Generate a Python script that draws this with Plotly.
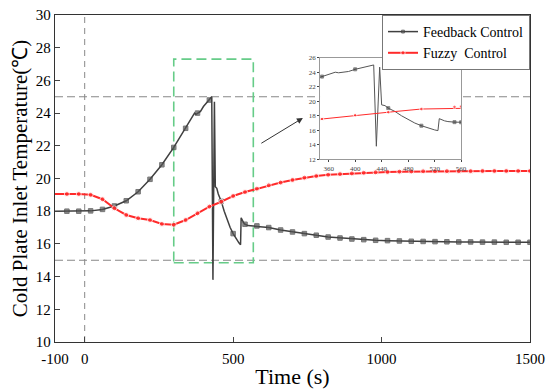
import plotly.graph_objects as go

# ---------------- data ----------------
fb_time = [-100, -60, -20, 20, 60, 100, 140, 180, 220, 260, 300, 340, 350, 360, 370, 375,
           380, 390, 400, 420, 428, 432, 437, 440, 445, 450, 460, 470, 480, 490, 500, 510,
           520, 525, 527, 535, 540, 550, 560, 580, 620, 660, 700, 740, 780, 820, 860, 900,
           940, 980, 1020, 1060, 1100, 1140, 1180, 1220, 1260, 1300, 1340, 1380, 1420, 1460, 1500]
fb_temp = [18.0, 18.0, 18.0, 18.02, 18.11, 18.32, 18.64, 19.19, 19.95, 20.84, 21.9, 23.07, 23.4, 23.65, 24.0, 23.92,
           24.0, 24.1, 24.4, 24.8, 25.0, 13.8, 24.7, 19.5, 19.4, 19.05, 18.6, 18.0, 17.45, 17.0, 16.63, 16.3,
           16.05, 15.95, 17.6, 17.3, 17.2, 17.12, 17.1, 17.1, 17.0, 16.85, 16.73, 16.63, 16.53, 16.42, 16.36, 16.3,
           16.26, 16.22, 16.2, 16.18, 16.16, 16.15, 16.14, 16.13, 16.12, 16.12, 16.11, 16.11, 16.1, 16.1, 16.1]

fz_time = [-100, -60, -20, 20, 60, 100, 140, 180, 220, 260, 300, 340, 350, 380, 400, 420, 450, 460,
           500, 540, 550, 560, 580, 620, 660, 700, 740, 780, 820, 860, 900, 940, 980, 1020, 1060,
           1100, 1140, 1180, 1220, 1260, 1300, 1340, 1380, 1420, 1460, 1500]
fz_temp = [19.05, 19.05, 19.05, 19.0, 18.73, 18.18, 17.77, 17.57, 17.46, 17.22, 17.17, 17.46, 17.56, 17.87, 18.08, 18.28, 18.5, 18.58,
           18.93, 19.17, 19.22, 19.27, 19.38, 19.58, 19.75, 19.91, 20.05, 20.15, 20.23, 20.27, 20.31, 20.35, 20.38, 20.4, 20.42,
           20.43, 20.44, 20.44, 20.45, 20.45, 20.45, 20.46, 20.46, 20.46, 20.46, 20.46]

main_marker_times = list(range(-60, 1501, 40))
inset_marker_times = [350, 400, 450, 500, 550, 560]

ref_levels = [15, 25]
ref_time = 0
zoom_box_x = [300, 568]
zoom_box_y = [14.85, 27.3]
arrow_from = (590, 22.1)
arrow_to = (735, 23.7)

x_ticks = [-100, 0, 500, 1000, 1500]
x_tick_labels = ["-100", "0", "500", "1000", "1500"]
y_ticks = list(range(10, 31, 2))
inset_x_ticks = [360, 400, 440, 480, 520, 560]
inset_y_ticks = list(range(12, 27, 2))

GRAY = "#404040"
RED = "#ff2a2a"
FONT = "Liberation Serif"


def sizes(times, marks, s):
    return [s if t in marks else 0 for t in times]


fig = go.Figure()

fig.add_trace(go.Scatter(
    x=fb_time, y=fb_temp, mode="lines+markers", name="Feedback Control",
    line=dict(color=GRAY, width=1.5),
    marker=dict(symbol="square", color="#555555", size=sizes(fb_time, main_marker_times, 4.5)),
))
fig.add_trace(go.Scatter(
    x=fz_time, y=fz_temp, mode="lines+markers", name="Fuzzy  Control",
    line=dict(color=RED, width=2),
    marker=dict(symbol="circle", color=RED, size=sizes(fz_time, main_marker_times, 5)),
))

# inset
fig.add_trace(go.Scatter(
    x=fb_time, y=fb_temp, mode="lines+markers", showlegend=False,
    line=dict(color="#555555", width=1),
    marker=dict(symbol="square", color="#444444", size=sizes(fb_time, inset_marker_times, 3)),
    xaxis="x2", yaxis="y2",
))
fig.add_trace(go.Scatter(
    x=fz_time, y=fz_temp, mode="lines+markers", showlegend=False,
    line=dict(color=RED, width=1),
    marker=dict(symbol="circle", color=RED, size=sizes(fz_time, inset_marker_times, 3.5)),
    xaxis="x2", yaxis="y2",
))

shapes = []
for lv in ref_levels:
    shapes.append(dict(type="line", xref="x", yref="y", x0=x_ticks[0], x1=x_ticks[-1], y0=lv, y1=lv,
                       line=dict(color="#888888", width=1.2, dash="8px,4px"), layer="below"))
shapes.append(dict(type="line", xref="x", yref="y", x0=ref_time, x1=ref_time, y0=y_ticks[0], y1=y_ticks[-1],
                   line=dict(color="#888888", width=1, dash="6px,5px"), layer="below"))
shapes.append(dict(type="rect", xref="x", yref="y", x0=zoom_box_x[0], x1=zoom_box_x[1],
                   y0=zoom_box_y[0], y1=zoom_box_y[1],
                   line=dict(color="#66cc88", width=1.6, dash="10px,5px"), layer="below"))

fig.update_layout(
    width=550, height=389,
    margin=dict(l=55, r=20, t=15, b=47, autoexpand=False),
    paper_bgcolor="white", plot_bgcolor="white",
    font=dict(family=FONT, color="black", size=15),
    shapes=shapes,
    annotations=[dict(x=arrow_to[0], y=arrow_to[1], ax=arrow_from[0], ay=arrow_from[1],
                      xref="x", yref="y", axref="x", ayref="y", text="", showarrow=True,
                      arrowhead=2, arrowsize=1.2, arrowwidth=1, arrowcolor="#333333")],
    legend=dict(x=1, y=1, xanchor="right", yanchor="top", bgcolor="white",
                bordercolor="#777777", borderwidth=1,
                font=dict(family=FONT, size=14, color="black"),
                tracegroupgap=0, itemwidth=30),
    xaxis=dict(range=[-100, 1500], tickvals=x_ticks, ticktext=x_tick_labels,
               ticks="inside", ticklen=5, tickwidth=1,
               showline=True, linecolor="#333333", linewidth=1.3, mirror=True, automargin=False,
               showgrid=False, zeroline=False, tickfont=dict(size=15), ticklabelstandoff=3,
               title=dict(text="Time (s)", font=dict(size=22), standoff=2)),
    yaxis=dict(range=[10, 30], tickvals=y_ticks, ticks="inside", ticklen=5, tickwidth=1,
               showline=True, linecolor="#333333", linewidth=1.3, mirror=True, automargin=False,
               showgrid=False, zeroline=False, tickfont=dict(size=15),
               title=dict(text="Cold Plate Inlet Temperature(℃)", font=dict(size=21), standoff=2)),
    xaxis2=dict(domain=[0.558, 0.855], anchor="y2", range=[347, 560], tickvals=inset_x_ticks,
                ticks="outside", ticklen=2, showline=True, linecolor="#999999", linewidth=1,
                mirror=True, showgrid=False, zeroline=False, automargin=False,
                tickfont=dict(size=7, color="#444444")),
    yaxis2=dict(domain=[0.5587, 0.8694], anchor="x2", range=[12, 26], tickvals=inset_y_ticks,
                ticks="outside", ticklen=2, showline=True, linecolor="#999999", linewidth=1,
                mirror=True, showgrid=False, zeroline=False, automargin=False,
                tickfont=dict(size=7, color="#444444")),
)

fig.write_html("out.html", config={"displayModeBar": False},
               post_script="document.body.style.margin='0';document.body.style.padding='0';")
